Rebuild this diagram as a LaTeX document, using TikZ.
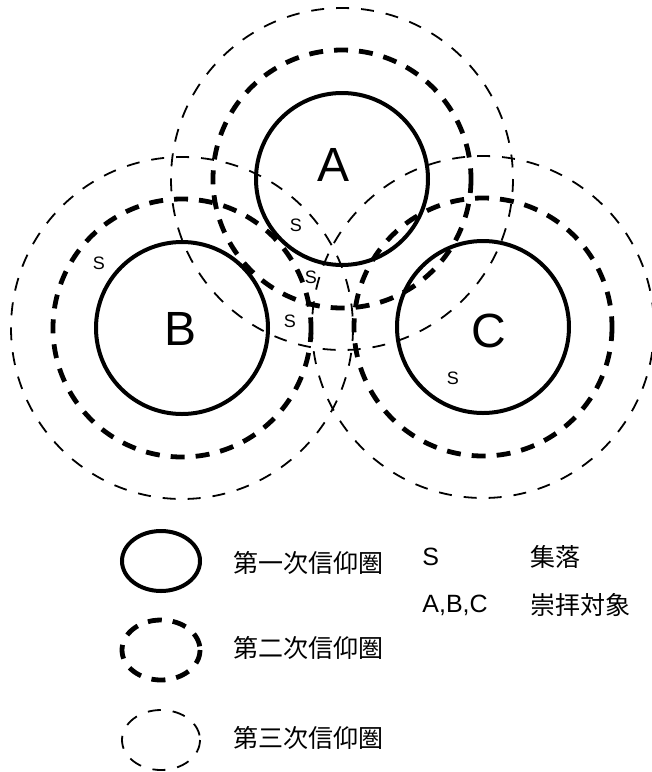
\documentclass[tikz,border=0pt]{standalone}
\usepackage{fontspec}
\setmainfont{Liberation Sans}
\newfontfamily\jpfont{Noto Sans CJK JP}
\usepackage{tikz}
\usetikzlibrary{positioning}
\colorlet{ringcol}{black}
\newcommand{\rone}{86}
\newcommand{\rtwo}{129}
\newcommand{\rthree}{171}

\begin{document}
\begin{tikzpicture}[x=0.5pt, y=-0.5pt,
    ringone/.style={ringcol, line width=2pt},
    ringtwo/.style={ringcol, line width=2.4pt, dash pattern=on 7pt off 5.5pt},
    ringthree/.style={ringcol, line width=0.9pt, dash pattern=on 6.5pt off 6pt},
    bigletter/.style={font=\fontsize{24}{27}\selectfont, inner sep=0pt},
    settle/.style={font=\fontsize{9}{10}\selectfont, inner sep=0pt},
    legtext/.style={font=\jpfont\fontsize{12.5}{15}\selectfont, anchor=west, inner sep=0pt},
    legsym/.style={font=\fontsize{12.5}{15}\selectfont, anchor=west, inner sep=0pt}]
      \useasboundingbox (0,0) rectangle (652,772);

      % --- centres of the three cult objects ---
      \coordinate (cA) at (342,179);
      \coordinate (cB) at (182,328);
      \coordinate (cC) at (483,327);

      % third ring (thin dashed)
      \foreach \c in {cA,cB,cC}
        \draw[ringthree] (\c) circle (\rthree);

      % second ring (thick dashed)
      \foreach \c in {cA,cB,cC}
        \draw[ringtwo] (\c) circle (\rtwo);

      % first ring (solid)
      \foreach \c in {cA,cB,cC}
        \draw[ringone] (\c) circle (\rone);

      % labels of the cult objects
      \node[bigletter] (labA) at (334,165) {A};
      \node[bigletter] (labB) at (181,329) {B};
      \node[bigletter] (labC) at (489,331) {C};

      % settlements
      \node[settle] (s1) at (99,263) {S};
      \node[settle] (s2) at (296,225) {S};
      \node[settle] (s3) at (311,277) {S};
      \node[settle] (s4) at (290,321) {S};
      \node[settle] (s5) at (453,378) {S};

      % --- legend ---
      \coordinate (l1) at (161,561);
      \coordinate (l2) at (161,650);
      \coordinate (l3) at (161,740);
      \draw[ringone] (l1) ellipse (39 and 30);
      \draw[ringtwo] (l2) ellipse (39 and 30);
      \draw[ringthree] (l3) ellipse (39 and 30);
      \node[legtext] (t1) at (233,563) {第一次信仰圏};
      \node[legtext] (t2) at (233,648) {第二次信仰圏};
      \node[legtext] (t3) at (233,738) {第三次信仰圏};

      \node[legsym] (k1) at (422,557) {S};
      \node[legtext] (v1) at (530,557) {集落};
      \node[legsym] (k2) at (422,605) {A,B,C};
      \node[legtext] (v2) at (530,605) {崇拝対象};
\end{tikzpicture}
\end{document}
